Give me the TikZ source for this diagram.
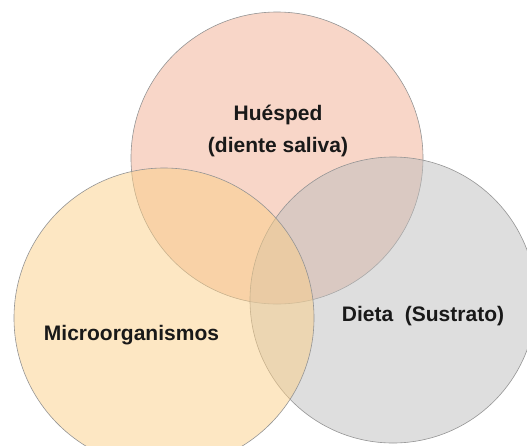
\documentclass[tikz,border=0pt]{standalone}
\usepackage{fontspec}
\setmainfont{Liberation Sans}
\definecolor{host color}{RGB}{241,173,145}
\definecolor{microbe color}{RGB}{251,207,135}
\definecolor{diet color}{RGB}{189,189,189}
\colorlet{factor border color}{black!42}
\tikzset{
    x={1pt},
    y={-1pt},
    factor circle/.style 2 args={
        circle,
        fill={#1},
        fill opacity=0.5,
        draw=factor border color,
        line width={0.6pt},
        inner sep=0pt,
        outer sep=0pt,
        minimum size={#2},
    },
    factor label/.style={
        font={\bfseries\fontsize{21}{32}\selectfont},
        align=center,
        text=black!90,
        inner sep=0pt,
    },
}

\begin{document}
\begin{tikzpicture}
% frame
\useasboundingbox (0,0) rectangle (527,445);
% circles
\node[factor circle={host color}{292}] (host) at (277,158) {};
\node[factor circle={diet color}{286}] (diet) at (393,300) {};
\node[factor circle={microbe color}{300}] (microbe) at (164,318) {};
% labels
\node[factor label] (host label) at (278,131) {Huésped\\(diente saliva)};
\node[factor label] (microbe label) at (131.5,335) {Microorganismos};
\node[factor label] (diet label) at (423,316) {Dieta\ \ (Sustrato)};
\end{tikzpicture}
\end{document}
